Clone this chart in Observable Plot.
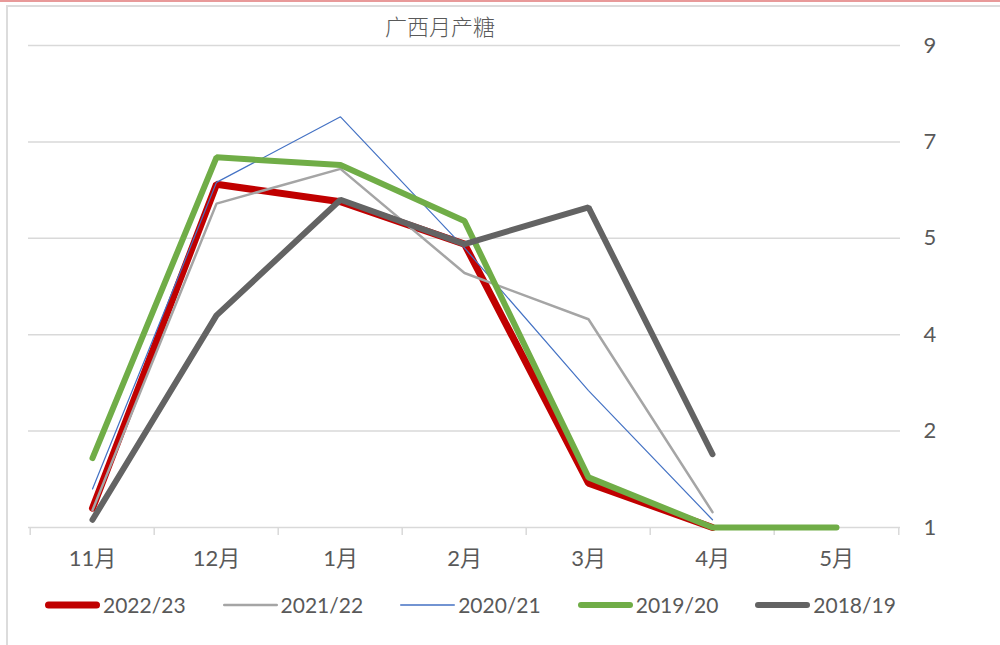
<!DOCTYPE html>
<html>
<head>
<meta charset="utf-8">
<script src="https://cdn.jsdelivr.net/npm/d3@7"></script>
<script src="https://cdn.jsdelivr.net/npm/@observablehq/plot@0.6"></script>
<style>
  html, body { margin: 0; padding: 0; background: #fff; }
  #wrap { position: relative; width: 1000px; height: 645px; overflow: hidden; font-family: Lato, "Noto Sans CJK SC", sans-serif; }
  #topline { position: absolute; left: 0; top: 0; width: 1000px; height: 2px; background: #e89a9a; }
  #frame { position: absolute; left: 6px; top: 5px; width: 1000px; height: 700px; border-left: 2px solid #dcdcdc; border-top: 2px solid #dcdcdc; box-sizing: border-box; }
  #title { position: absolute; left: 440px; top: 9px; transform: translateX(-50%); font-family: "Noto Sans CJK SC", sans-serif; font-weight: 300; font-size: 22px; color: #595959; white-space: nowrap; }
  #chart { position: absolute; left: 0; top: 0; }
  #legend { position: absolute; left: 44px; top: 592px; display: flex; gap: 36px; align-items: center; }
  .item { display: flex; align-items: center; gap: 2px; font-family: Lato, sans-serif; font-size: 21px; color: #595959; line-height: 26px; }
  .item svg { display: block; }
</style>
</head>
<body>
<div id="wrap">
  <div id="topline"></div>
  <div id="frame"></div>
  <div id="chart"></div>
  <div id="title"></div>
  <div id="legend"></div>
</div>
<script>
// ---- data ----
const title = "广西月产糖";
const months = ["11月", "12月", "1月", "2月", "3月", "4月", "5月"];
const yTicks = [0, 50, 100, 150, 200, 250];
const yTickLabels = ["1", "2", "4", "5", "7", "9"];

const seriesNames = ["2022/23", "2021/22", "2020/21", "2019/20", "2018/19"];
const v2022 = [10, 178, 169, 147, 23, 0, null];
const v2021 = [9, 168, 186, 132, 108, 8, null];
const v2020 = [20, 179, 213, 145, 71, 4, null];
const v2019 = [36, 192, 188, 159, 26, 0, 0];
const v2018 = [4, 110, 170, 147, 166, 38, null];

const seriesColors = ["#C00000", "#A5A5A5", "#4472C4", "#70AD47", "#636363"];
const seriesWidths = [7, 2.5, 1.2, 6, 6];

// ---- build ----
const seriesValues = [v2022, v2021, v2020, v2019, v2018];
const rows = seriesNames.flatMap((s, k) =>
  months.map((m, i) => ({series: s, month: m, value: seriesValues[k][i]})));

const W = 1000, H = 645, ML = 28, MR = 100, MT = 45, MB = 118;
const step = (W - ML - MR) / months.length;
const gridColor = "#d9d9d9";
const textColor = "#595959";

const marks = [
  Plot.gridY(yTicks, {stroke: gridColor, strokeOpacity: 1, strokeWidth: 1.5}),
  Plot.ruleX(months, {x: d => d, y1: 0, y2: 0, dx: -step / 2, insetBottom: -8, stroke: gridColor, strokeWidth: 1.5}),
  Plot.ruleX(months.slice(-1), {x: d => d, y1: 0, y2: 0, dx: step / 2, insetBottom: -8, stroke: gridColor, strokeWidth: 1.5}),
  Plot.axisX({tickSize: 0, tickPadding: 23, fontSize: 22, fill: textColor, label: null}),
  Plot.axisY(yTicks, {anchor: "right", tickSize: 0, tickPadding: 23, fontSize: 22, fill: textColor, label: null,
    tickFormat: d => yTickLabels[yTicks.indexOf(d)]}),
  ...seriesNames.map((s, k) => Plot.line(rows.filter(r => r.series === s), {
    x: "month", y: "value",
    stroke: seriesColors[k], strokeWidth: seriesWidths[k],
    strokeLinecap: "round", strokeLinejoin: "miter"
  }))
];

const chart = Plot.plot({
  width: W, height: H,
  marginLeft: ML, marginRight: MR, marginTop: MT, marginBottom: MB,
  style: {background: "transparent", fontFamily: 'Lato, "Noto Sans CJK SC", sans-serif', overflow: "visible"},
  x: {type: "point", domain: months, padding: 0.5, axis: null},
  y: {domain: [0, 250], axis: null},
  marks
});
document.getElementById("chart").appendChild(chart);
document.getElementById("title").textContent = title;

// legend
const legend = document.getElementById("legend");
seriesNames.forEach((s, k) => {
  const item = document.createElement("div");
  item.className = "item";
  const sw = Math.max(seriesWidths[k], 1.5);
  item.innerHTML = `<svg width="57" height="14"><line x1="${sw/2 + 1}" y1="7" x2="${56 - sw/2}" y2="7" stroke="${seriesColors[k]}" stroke-width="${sw}" stroke-linecap="round"/></svg><span>${s}</span>`;
  legend.appendChild(item);
});
</script>
</body>
</html>
